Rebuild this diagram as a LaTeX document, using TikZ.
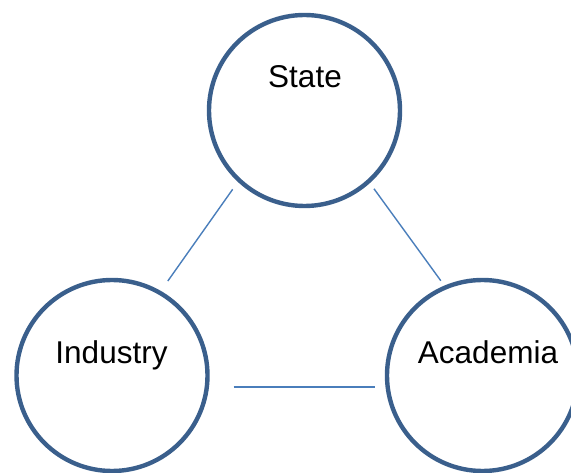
\documentclass[tikz,border=0pt]{standalone}
\usepackage{fontspec}
\setmainfont{Liberation Sans}
\definecolor{ringblue}{HTML}{3A5F8C}
\definecolor{linkblue}{HTML}{4A7EBB}
\begin{document}
\begin{tikzpicture}[x=1pt,y=-1pt,
  ring/.style={circle, draw=ringblue, line width=4.4pt, fill=white, minimum size=191pt, inner sep=0pt},
  link/.style={draw=linkblue, line width=1.4pt},
  lbl/.style={font=\fontsize{31.5}{36}\selectfont, text=black, inner sep=0pt, anchor=base}]
\useasboundingbox (0,0) rectangle (571,473);
\clip (0,0) rectangle (571,473);
\node[ring] (state) at (304.5,110.5) {};
\node[ring] (industry) at (112,375.5) {};
\node[ring] (academia) at (482.5,375.5) {};
\node[lbl] (statetext) at (305,88) {State};
\node[lbl] (industrytext) at (111.5,364) {Industry};
\node[lbl] (academiatext) at (488,363.5) {Academia};
\draw[link, shorten <=9pt, shorten >=12pt] (state.227) -- (industry.60);
\draw[link, shorten <=7pt, shorten >=6pt] (state.312) -- (academia.113.5);
\draw[link, shorten <=24pt, shorten >=10pt] ([yshift=-11.5pt]industry.east) -- ([yshift=-11.5pt]academia.west);
\end{tikzpicture}
\end{document}
